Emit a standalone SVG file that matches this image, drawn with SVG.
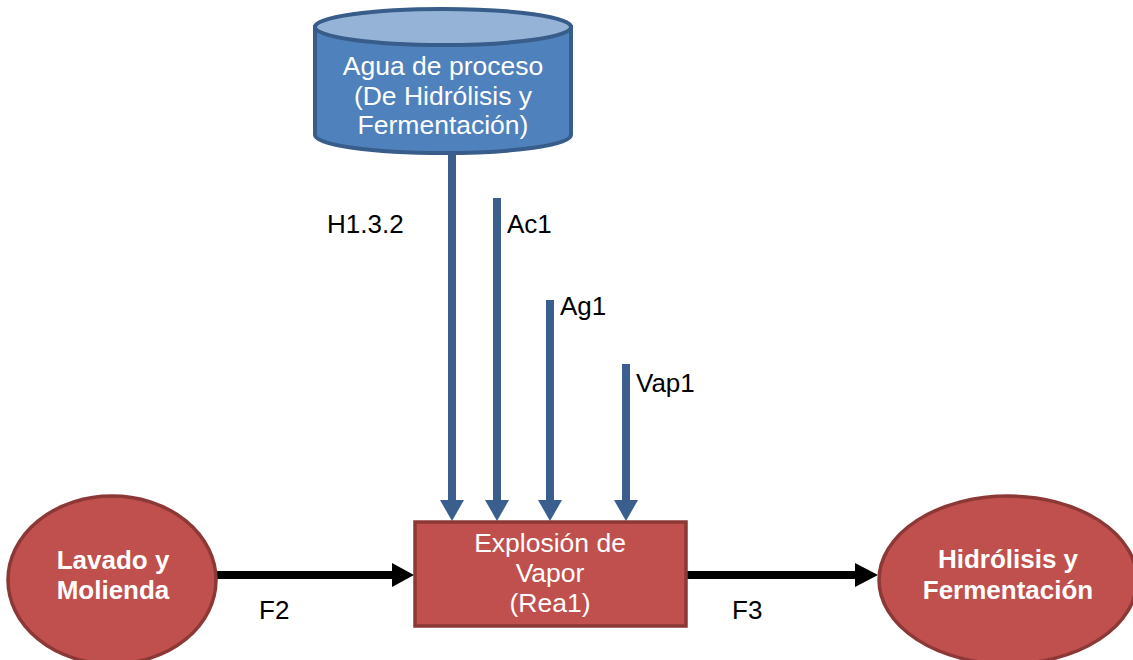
<svg xmlns="http://www.w3.org/2000/svg" width="1133" height="660" viewBox="0 0 1133 660">
  <defs>
    <style>
      .lbl { font-family: "Liberation Sans", Arial, sans-serif; font-size: 26px; fill: #000; }
      .wt { font-family: "Liberation Sans", Arial, sans-serif; font-size: 26.5px; fill: #fff; text-anchor: middle; }
      .wb { font-family: "Liberation Sans", Arial, sans-serif; font-size: 26px; font-weight: bold; fill: #fff; text-anchor: middle; }
      .red { fill: #C0504D; stroke: #8C3836; stroke-width: 3.5; }
      .blue-line { stroke: #3A5F8F; stroke-width: 8; fill: none; }
      .black-line { stroke: #000; stroke-width: 8; fill: none; }
    </style>
  </defs>

  <rect width="1133" height="660" fill="#fff"/>

  <!-- storage cylinder -->
  <g id="agua">
    <path d="M315,27 L315,135 A128,18 0 0 0 571,135 L571,27 Z" fill="#4F81BD" stroke="#385D8A" stroke-width="4"/>
    <ellipse cx="443" cy="27" rx="128" ry="18" fill="#95B3D7" stroke="#385D8A" stroke-width="4"/>
    <text class="wt" x="443" y="75">Agua de proceso</text>
    <text class="wt" x="443" y="105">(De Hidrólisis y</text>
    <text class="wt" x="443" y="134">Fermentación)</text>
  </g>

  <!-- connectors -->
  <g id="connectors">
    <line class="blue-line" x1="452" y1="153" x2="452" y2="502"/>
    <polygon points="440,500 464,500 452,521" fill="#3A5F8F"/>
    <line class="blue-line" x1="497" y1="198" x2="497" y2="502"/>
    <polygon points="485,500 509,500 497,521" fill="#3A5F8F"/>
    <line class="blue-line" x1="550" y1="300" x2="550" y2="502"/>
    <polygon points="538,500 562,500 550,521" fill="#3A5F8F"/>
    <line class="blue-line" x1="626" y1="364" x2="626" y2="502"/>
    <polygon points="614,500 638,500 626,521" fill="#3A5F8F"/>

    <line class="black-line" x1="216" y1="575" x2="395" y2="575"/>
    <polygon points="392,563 392,587 414,575" fill="#000"/>
    <line class="black-line" x1="686" y1="575" x2="858" y2="575"/>
    <polygon points="855,563 855,587 878,575" fill="#000"/>

    <text class="lbl" x="327" y="233">H1.3.2</text>
    <text class="lbl" x="507" y="233">Ac1</text>
    <text class="lbl" x="560" y="315">Ag1</text>
    <text class="lbl" x="636" y="392">Vap1</text>
    <text class="lbl" x="259" y="619">F2</text>
    <text class="lbl" x="732" y="619">F3</text>
  </g>

  <g id="lavado">
    <ellipse class="red" cx="112" cy="580" rx="104" ry="84"/>
    <text class="wb" x="113" y="569">Lavado y</text>
    <text class="wb" x="113" y="599">Molienda</text>
  </g>

  <g id="explosion">
    <rect class="red" x="415" y="522" width="271" height="104"/>
    <text class="wt" x="550" y="552">Explosión de</text>
    <text class="wt" x="550" y="582">Vapor</text>
    <text class="wt" x="550" y="612">(Rea1)</text>
  </g>

  <g id="hidrolisis">
    <ellipse class="red" cx="1008" cy="580" rx="129" ry="84"/>
    <text class="wb" x="1008" y="568">Hidrólisis y</text>
    <text class="wb" x="1008" y="599">Fermentación</text>
  </g>
</svg>
